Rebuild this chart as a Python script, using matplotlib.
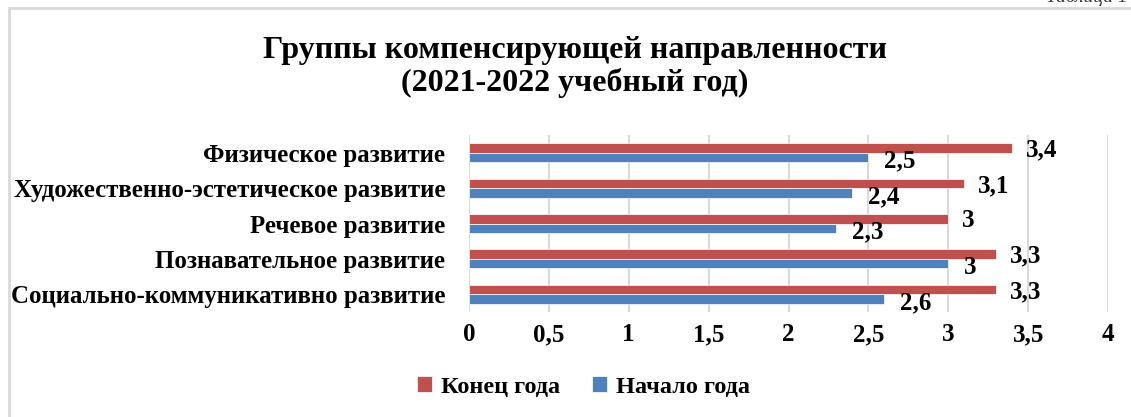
import matplotlib.pyplot as plt
from matplotlib.patches import Rectangle
from matplotlib.ticker import FuncFormatter

# Chart data
categories = [
    'Социально-коммуникативно развитие',
    'Познавательное развитие',
    'Речевое развитие',
    'Художественно-эстетическое развитие',
    'Физическое развитие',
]
end_of_year = [3.3, 3.3, 3.0, 3.1, 3.4]
start_of_year = [2.6, 3.0, 2.3, 2.4, 2.5]
ticks = [0, 0.5, 1, 1.5, 2, 2.5, 3, 3.5, 4]

RED = '#C0504D'
BLUE = '#4F81BD'
FONT = 'Liberation Serif'

plt.rcParams['font.family'] = FONT
plt.rcParams['font.weight'] = 'bold'


def fmt(v):
    s = ('%g' % v).replace('.', ',')
    return s


fig = plt.figure(figsize=(11.31, 4.17), dpi=100)

# outer chart frame
fig.patches.append(Rectangle((9 / 1131, -0.05), 1.2, 1 - 8 / 417 + 0.05,
                             transform=fig.transFigure, fill=False,
                             edgecolor='#d9d9d9', linewidth=2))
# caption above the frame (mostly cut off in the source)
fig.text(0.997, 1 - 6 / 417, 'Таблица 1', ha='right', va='bottom',
         fontsize=14, style='italic', weight='normal', color='#333333')

ax = fig.add_axes([469 / 1131, 1 - 312 / 417, 639 / 1131, 177 / 417])

y = list(range(len(categories)))
h = 0.27
ax.barh([v + h / 2 for v in y], end_of_year, height=h, color=RED,
        edgecolor='white', linewidth=0.5, label='Конец года', zorder=3)
ax.barh([v - h / 2 for v in y], start_of_year, height=h, color=BLUE,
        edgecolor='white', linewidth=0.5, label='Начало года', zorder=3)

for yi, e, s in zip(y, end_of_year, start_of_year):
    ax.annotate(fmt(e), (e, yi + h / 2), xytext=(10, -1.5), textcoords='offset points',
                ha='left', va='center', fontsize=18, weight='bold')
    ax.annotate(fmt(s), (s, yi - h / 2), xytext=(11.5, -2.5), textcoords='offset points',
                ha='left', va='center', fontsize=18, weight='bold')

ax.set_xlim(0, 4)
ax.set_ylim(-0.5, len(categories) - 0.5)
ax.set_xticks(ticks)
ax.xaxis.set_major_formatter(FuncFormatter(lambda v, p: fmt(v)))
ax.set_yticks(y)
ax.set_yticklabels(categories, fontsize=17.9)
ax.tick_params(axis='both', length=0)
ax.tick_params(axis='x', pad=8, labelsize=18)
ax.tick_params(axis='y', pad=17)
ax.grid(axis='x', color='#d9d9d9', linewidth=1.5, zorder=0)
for sp in ax.spines.values():
    sp.set_visible(False)

fig.text(0.508, 1 - 67 / 417, 'Группы компенсирующей направленности\n(2021-2022 учебный год)',
         ha='center', va='center', fontsize=23, weight='bold', linespacing=1.15)

handles, labels = ax.get_legend_handles_labels()
fig.legend(handles, labels, loc='center', bbox_to_anchor=(0.516, 1 - 387 / 417),
           ncol=2, frameon=False, fontsize=17.5, handlelength=0.6, handleheight=0.6,
           handletextpad=0.4, columnspacing=1.3)

fig.savefig('out.png', dpi=100)
